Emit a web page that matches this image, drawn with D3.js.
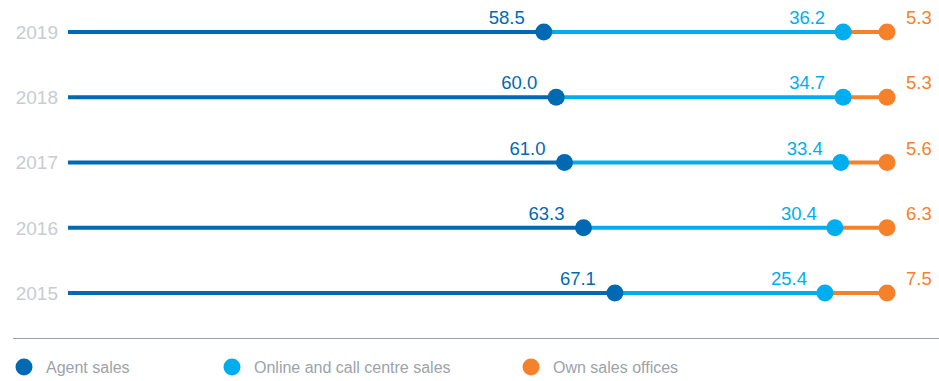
<!DOCTYPE html>
<meta charset="utf-8">
<style>
body {
  margin: 0;
  padding: 0;
  background: #fff;
}
text {
  font-family: "Liberation Sans", Arial, Helvetica, sans-serif;
}
</style>
<svg width="939" height="381"></svg>
<script src="https://cdn.jsdelivr.net/npm/d3@7"></script>
<script>

var years = ["2019", "2018", "2017", "2016", "2015"];
var agent = [58.5, 60.0, 61.0, 63.3, 67.1];
var online = [36.2, 34.7, 33.4, 30.4, 25.4];
var own = [5.3, 5.3, 5.6, 6.3, 7.5];
var seriesNames = ["Agent sales", "Online and call centre sales", "Own sales offices"];
var colors = ["#0069b4", "#00aeef", "#f5822a"];

var svg = d3.select("svg");

var x = d3.scaleLinear().domain([0, 100]).range([60, 887]);
var y = d3.scalePoint().domain(years).range([32, 293]);

var rows = years.map(function(yr, i) {
  return {year: yr, a: agent[i], o: online[i], w: own[i]};
});

// year labels
svg.append("g")
  .selectAll("text")
  .data(rows)
  .enter().append("text")
    .attr("x", 58)
    .attr("y", function(d) { return y(d.year); })
    .attr("dy", "0.36em")
    .attr("text-anchor", "end")
    .attr("font-size", 19)
    .attr("fill", "#c8ccd0")
    .text(function(d) { return d.year; });

var row = svg.append("g")
  .selectAll("g")
  .data(rows)
  .enter().append("g")
    .attr("transform", function(d) { return "translate(0," + y(d.year) + ")"; });

// segments
row.append("line")
    .attr("x1", x(0) + 8)
    .attr("x2", function(d) { return x(d.a); })
    .attr("stroke", colors[0])
    .attr("stroke-width", 4);
row.append("line")
    .attr("x1", function(d) { return x(d.a); })
    .attr("x2", function(d) { return x(d.a + d.o); })
    .attr("stroke", colors[1])
    .attr("stroke-width", 4);
row.append("line")
    .attr("x1", function(d) { return x(d.a + d.o); })
    .attr("x2", function(d) { return x(d.a + d.o + d.w); })
    .attr("stroke", colors[2])
    .attr("stroke-width", 4);

// dots
row.append("circle")
    .attr("cx", function(d) { return x(d.a); })
    .attr("r", 8.5)
    .attr("fill", colors[0]);
row.append("circle")
    .attr("cx", function(d) { return x(d.a + d.o); })
    .attr("r", 8.5)
    .attr("fill", colors[1]);
row.append("circle")
    .attr("cx", function(d) { return x(d.a + d.o + d.w); })
    .attr("r", 8.5)
    .attr("fill", colors[2]);

// value labels
row.append("text")
    .attr("x", function(d) { return x(d.a) - 19; })
    .attr("y", -8)
    .attr("text-anchor", "end")
    .attr("font-size", 18.5)
    .attr("fill", colors[0])
    .text(function(d) { return d.a.toFixed(1); });
row.append("text")
    .attr("x", function(d) { return x(d.a + d.o) - 18; })
    .attr("y", -8)
    .attr("text-anchor", "end")
    .attr("font-size", 18.5)
    .attr("fill", colors[1])
    .text(function(d) { return d.o.toFixed(1); });
row.append("text")
    .attr("x", function(d) { return x(d.a + d.o + d.w) + 19; })
    .attr("y", -8)
    .attr("text-anchor", "start")
    .attr("font-size", 18.5)
    .attr("fill", colors[2])
    .text(function(d) { return d.w.toFixed(1); });

// separator
svg.append("line")
    .attr("x1", 13)
    .attr("x2", 939)
    .attr("y1", 338.5)
    .attr("y2", 338.5)
    .attr("stroke", "#9aa1a8")
    .attr("stroke-width", 1);

// legend
var legendX = [24, 232, 531];
var legend = svg.append("g")
  .selectAll("g")
  .data(seriesNames)
  .enter().append("g")
    .attr("transform", function(d, i) { return "translate(" + legendX[i] + ",367)"; });

legend.append("circle")
    .attr("r", 8.5)
    .attr("fill", function(d, i) { return colors[i]; });

legend.append("text")
    .attr("x", 22)
    .attr("dy", "0.36em")
    .attr("font-size", 16)
    .attr("fill", "#9ca3a9")
    .text(function(d) { return d; });

</script>
